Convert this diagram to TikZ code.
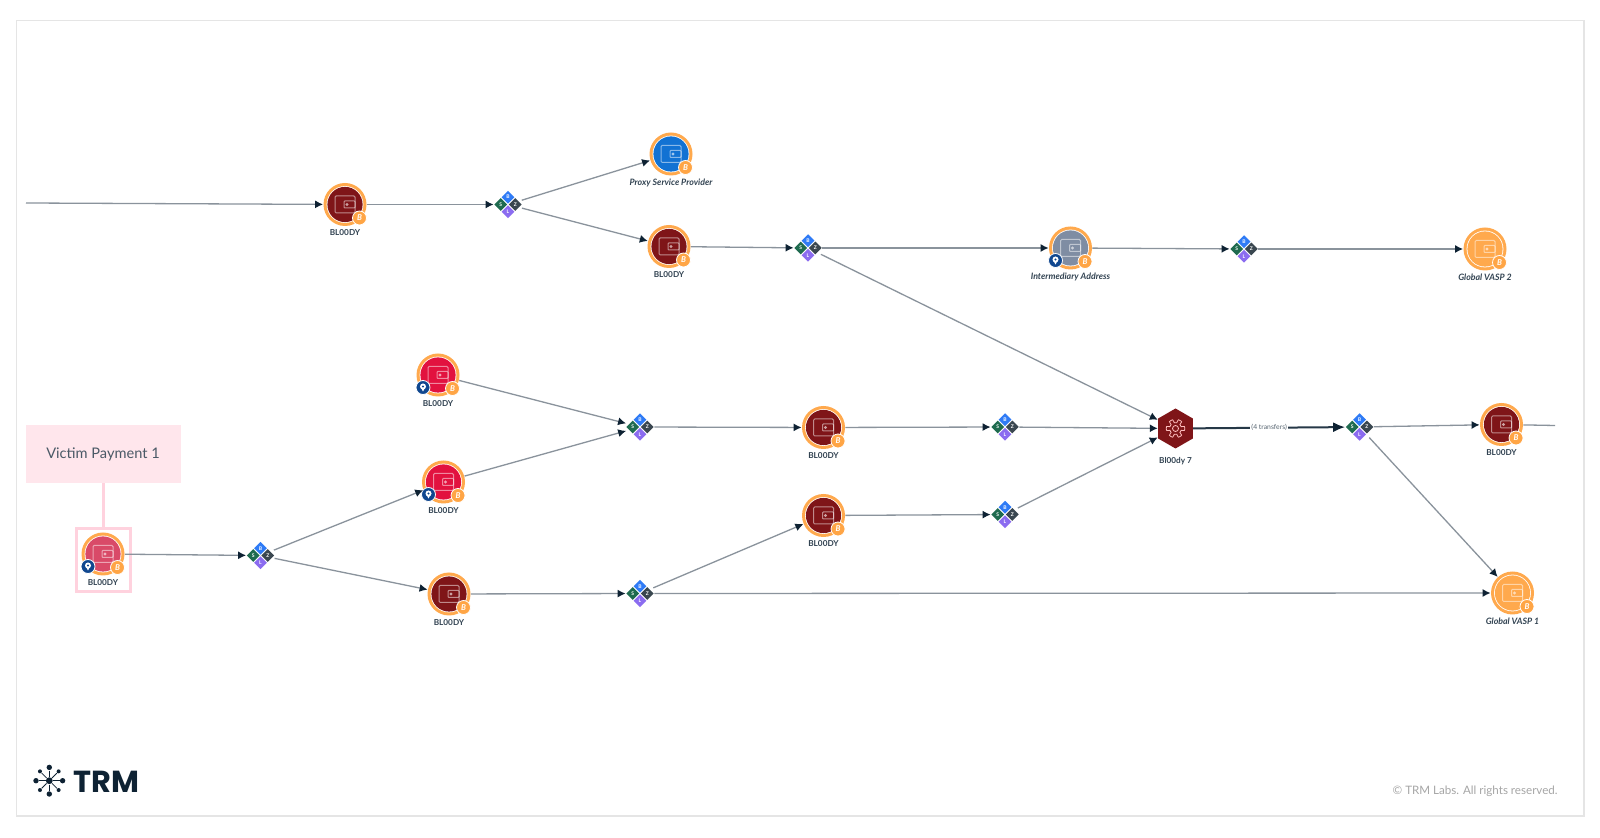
\documentclass[tikz,border=0pt]{standalone}
\usepackage{fontspec}
\setmainfont{Lato}
\newfontfamily\logofont{Poppins}
\usepackage{xcolor}
\usepackage{tikz}
\usetikzlibrary{arrows.meta, positioning, shapes.geometric, calc}

\definecolor{ringorange}{HTML}{FFA94D}
\definecolor{darkred}{HTML}{7F1518}
\definecolor{crimson}{HTML}{E2123F}
\definecolor{rose}{HTML}{D94A68}
\definecolor{proxyblue}{HTML}{1272D3}
\definecolor{slategrey}{HTML}{7F8DA3}
\definecolor{navy}{HTML}{0E2233}
\definecolor{edgegrey}{HTML}{8A939C}
\definecolor{pinkline}{HTML}{FFD2DE}
\definecolor{pinkfill}{HTML}{FFE6EC}
\definecolor{pinblue}{HTML}{10478F}
\definecolor{cellblue}{HTML}{2F7BF6}
\definecolor{cellgreen}{HTML}{1F6B4F}
\definecolor{cellgrey}{HTML}{3A4750}
\definecolor{cellviolet}{HTML}{8B6CF0}

\tikzset{
  wallet/.style={circle, minimum size=21.5pt, inner sep=0pt, fill=ringorange,
    path picture={
      \fill[white] (path picture bounding box.center) circle (9.2pt);
      \fill[#1] (path picture bounding box.center) circle (8.8pt);
      \draw[white, opacity=0.5, line width=0.5pt, rounded corners=0.6pt]
        ($(path picture bounding box.center)+(-10,-8.5)$) rectangle ($(path picture bounding box.center)+(10,8.5)$);
      \draw[white, opacity=0.5, line width=0.5pt, rounded corners=0.4pt]
        ($(path picture bounding box.center)+(-1,-3.5)$) rectangle ($(path picture bounding box.center)+(10,3.5)$);
      \fill[white, opacity=0.6] ($(path picture bounding box.center)+(2,0)$) circle (0.8pt);
    }},
  addr/.style={font=\fontsize{4.1}{4.1}\selectfont\bfseries, text=navy!85, inner sep=0pt, below=1.4pt of #1},
  vasp/.style={font=\fontsize{4.4}{4.4}\selectfont\bfseries\itshape, text=navy!85, inner sep=0pt, below=1.1pt of #1},
  btcbadge/.style={circle, minimum size=7pt, inner sep=0pt, fill=ringorange!90!orange, draw=white, line width=0.4pt,
    text=white, font=\fontsize{4}{4}\selectfont\bfseries\itshape},
  pinbadge/.style={circle, minimum size=7pt, inner sep=0pt, fill=pinblue, draw=white, line width=0.4pt,
    path picture={
      \fill[white] ($(path picture bounding box.center)+(-2.7,-1)$) -- ($(path picture bounding box.center)+(0,4)$) -- ($(path picture bounding box.center)+(2.7,-1)$) -- cycle;
      \fill[white] ($(path picture bounding box.center)+(0,-1)$) circle (1.5pt);
      \fill[pinblue] ($(path picture bounding box.center)+(0,-1)$) circle (0.6pt);
    }},
  hub/.style={circle, minimum size=14pt, inner sep=0pt},
  cell/.style={diamond, minimum size=6.6pt, inner sep=0pt, fill=#1, text=white, font=\fontsize{2.5}{2.5}\selectfont\bfseries},
  flow/.style={draw=edgegrey, line width=0.65pt, -{Latex[length=4pt,width=4pt,color=navy]}},
  heavy/.style={draw=navy!90, line width=1pt, -{Latex[length=6pt,width=5pt,color=navy]}},
}

% badges and hub marks, placed on a wallet or hub node by name
\newcommand{\btcmark}[1]{\node[btcbadge] (#1btc) at ($(#1)+(14.5,13.5)$) {B};}
\newcommand{\pinmark}[1]{\node[pinbadge] (#1pin) at ($(#1)+(-15,12.5)$) {};}
\newcommand{\hubmark}[1]{
  \node[cell=cellblue] (#1b) at ($(#1)+(0,-7.3)$) {B};
  \node[cell=cellgreen] (#1s) at ($(#1)+(-7.3,0)$) {S};
  \node[cell=cellgrey] (#1z) at ($(#1)+(7.3,0)$) {Z};
  \node[cell=cellviolet] (#1l) at ($(#1)+(0,7.3)$) {L};
}

\begin{document}
\begin{tikzpicture}[x=0.5pt, y=-0.5pt]
  % page and frame, 1 unit = 1 px of the reference
  \useasboundingbox (0,0) rectangle (1600,838);
  \fill[white] (0,0) rectangle (1600,838);
  \draw[black!10, line width=0.6pt] (16.5,20.5) rectangle (1584,816);

  % callout
  \node[fill=pinkfill, minimum width=77.5pt, minimum height=29pt, inner sep=0pt,
    font=\fontsize{7.3}{7.3}\selectfont, text=navy!75] (callout) at (103,454) {Victim Payment 1};
  \node[draw=pinkline, line width=1.5pt, minimum width=27pt, minimum height=31.5pt, inner sep=0pt] (highlight) at (103.5,560.5) {};
  \draw[pinkline, line width=1.5pt] (callout.south -| highlight.north) -- (highlight.north);

  % wallets
  \node[wallet=rose] (victim) at (103,554) {};
  \node[wallet=darkred] (bloodtop) at (345,204.5) {};
  \node[wallet=proxyblue] (proxy) at (671,154) {};
  \node[wallet=darkred] (bloodmid) at (669,246.5) {};
  \node[wallet=slategrey] (inter) at (1070.5,248) {};
  \node[wallet=ringorange] (vasptwo) at (1485,249) {};
  \node[wallet=crimson] (bloodpin) at (438,375) {};
  \node[wallet=crimson] (bloodlow) at (443.5,482) {};
  \node[wallet=darkred] (bloodbot) at (449,594) {};
  \node[wallet=darkred] (bloodcen) at (823.5,427.5) {};
  \node[wallet=darkred] (bloodsub) at (823.5,515.5) {};
  \node[wallet=darkred] (bloodend) at (1501.5,424.5) {};
  \node[wallet=ringorange] (vaspone) at (1512.5,593) {};
  % service hexagon
  \node[regular polygon, regular polygon sides=6, shape border rotate=30, minimum size=20pt, inner sep=0pt, fill=darkred] (service) at (1175.5,428.5) {};
  \begin{scope}[shift={(service)}]
    \draw[white!75!red, line width=0.4pt] plot[domain=0:360, samples=121, variable=\t] (\t:{7.5+1.7*max(min(3*cos(6*\t),1),-1)}) -- cycle;
    \draw[white!75!red, line width=0.4pt] (0,0) circle (1.5pt);
  \end{scope}

  % badges
  \btcmark{victim} \pinmark{victim}
  \btcmark{bloodtop} \btcmark{proxy} \btcmark{bloodmid}
  \btcmark{inter} \pinmark{inter} \btcmark{vasptwo}
  \btcmark{bloodpin} \pinmark{bloodpin}
  \btcmark{bloodlow} \pinmark{bloodlow}
  \btcmark{bloodbot} \btcmark{bloodcen} \btcmark{bloodsub}
  \btcmark{bloodend} \btcmark{vaspone}

  % labels
  \node[addr=victim] (victimlabel) {BL00DY};
  \node[addr=bloodtop] (bloodtoplabel) {BL00DY};
  \node[vasp=proxy] (proxylabel) {Proxy Service Provider};
  \node[addr=bloodmid] (bloodmidlabel) {BL00DY};
  \node[vasp=inter] (interlabel) {Intermediary Address};
  \node[vasp=vasptwo] (vasptwolabel) {Global VASP 2};
  \node[addr=bloodpin] (bloodpinlabel) {BL00DY};
  \node[addr=bloodlow] (bloodlowlabel) {BL00DY};
  \node[addr=bloodbot] (bloodbotlabel) {BL00DY};
  \node[addr=bloodcen] (bloodcenlabel) {BL00DY};
  \node[addr=bloodsub] (bloodsublabel) {BL00DY};
  \node[addr=bloodend] (bloodendlabel) {BL00DY};
  \node[vasp=vaspone] (vaspanelabel) {Global VASP 1};
  \node[font=\fontsize{4.1}{4.1}\selectfont\bfseries, text=navy!85, inner sep=0pt, below=4pt of service] (servicelabel) {Bl00dy 7};

  % hubs
  \node[hub] (hubtop) at (508,204.5) {};
  \node[hub] (hubmid) at (808,248) {};
  \node[hub] (hubvasp) at (1244,249) {};
  \node[hub] (hubcen) at (640,427) {};
  \node[hub] (hubrun) at (1005,427) {};
  \node[hub] (hubsub) at (1005,514.5) {};
  \node[hub] (hubout) at (1359.5,427) {};
  \node[hub] (hubvic) at (260.5,555.5) {};
  \node[hub] (hubbot) at (640,593.5) {};
  \hubmark{hubtop} \hubmark{hubmid} \hubmark{hubvasp}
  \hubmark{hubcen} \hubmark{hubrun} \hubmark{hubsub}
  \hubmark{hubout} \hubmark{hubvic} \hubmark{hubbot}

  % free ends
  \coordinate (comein) at (26,203);
  \coordinate (goout) at (1555,425.5);

  % connectors
  \draw[flow] (comein) -- (bloodtop);
  \draw[flow] (bloodtop) -- (hubtop);
  \draw[flow] (hubtop) -- (proxy);
  \draw[flow] (hubtop) -- (bloodmid);
  \draw[flow] (bloodmid) -- (hubmid);
  \draw[flow] (hubmid) -- (inter);
  \draw[flow] (hubmid) -- (service);
  \draw[flow] (inter) -- (hubvasp);
  \draw[flow] (hubvasp) -- (vasptwo);
  \draw[flow] (bloodpin) -- (hubcen);
  \draw[flow] (bloodlow) -- (hubcen);
  \draw[flow] (victim) -- (hubvic);
  \draw[flow] (hubvic) -- (bloodlow);
  \draw[flow] (hubvic) -- (bloodbot);
  \draw[flow] (bloodbot) -- (hubbot);
  \draw[flow] (hubbot) -- (bloodsub);
  \draw[flow] (hubbot) -- (vaspone);
  \draw[flow] (hubcen) -- (bloodcen);
  \draw[flow] (bloodcen) -- (hubrun);
  \draw[flow] (hubrun) -- (service);
  \draw[flow] (bloodsub) -- (hubsub);
  \draw[flow] (hubsub) -- (service);
  \draw[heavy] (service) -- node[fill=white, inner sep=0.6pt, font=\fontsize{3.4}{3.4}\selectfont, text=navy!70] (transfers) {(4 transfers)} (hubout);
  \draw[flow] (hubout) -- (bloodend);
  \draw[flow] (hubout) -- (vaspone);
  \draw[draw=edgegrey, line width=0.65pt] (bloodend) -- (goout);

  % logo
  \node[circle, fill=navy, minimum size=3.4pt, inner sep=0pt] (logohub) at (49.3,780.7) {};
  \foreach \a in {0,90,180,270} {
    \node[circle, fill=navy, minimum size=2.7pt, inner sep=0pt] (logo\a) at ($(logohub)+(\a:13.3)$) {};
    \draw[navy, line width=0.4pt] (logohub) -- (logo\a);
  }
  \foreach \a in {45,135,225,315} {
    \node[circle, fill=navy, minimum size=2pt, inner sep=0pt] (logo\a) at ($(logohub)+(\a:13.2)$) {};
    \draw[navy, line width=0.4pt] (logohub) -- (logo\a);
  }
  \node[anchor=west, inner sep=0pt, font=\logofont\fontsize{15.2}{15.2}\selectfont\bfseries, text=navy] (logotext) at (73,781.5) {TRM};
  \node[anchor=east, inner sep=0pt, font=\fontsize{5.8}{5.8}\selectfont, text=black!35] (rights) at (1558,791) {© TRM Labs. All rights reserved.};
\end{tikzpicture}
\end{document}
